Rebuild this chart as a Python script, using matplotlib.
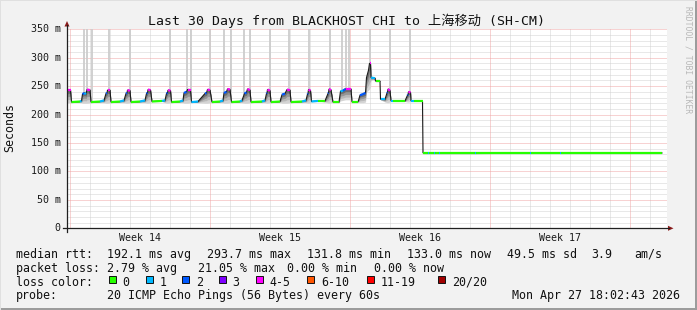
import matplotlib
matplotlib.use('Agg')
import matplotlib.pyplot as plt
from matplotlib.collections import LineCollection
from matplotlib.lines import Line2D
from matplotlib.patches import Polygon, Rectangle
import matplotlib.transforms as mtransforms
import numpy as np

W, H, DPI = 697, 310, 100

# ---------------- data (time in days since window start) ----------------
times = [
    0.000, 0.050, 0.175, 0.225,
    0.650, 0.725, 0.775, 0.875, 0.950, 1.000, 1.150, 1.200,
    1.650, 1.850, 1.950, 2.000, 2.025, 2.150, 2.200,
    2.650, 2.850, 2.950, 3.000, 3.025, 3.150, 3.200,
    3.650, 3.900, 3.975, 4.025, 4.050, 4.175, 4.250,
    4.750, 4.900, 4.975, 5.025, 5.050, 5.175, 5.225,
    5.650, 5.800, 5.850, 5.975, 6.025, 6.175, 6.225,
    6.550, 6.900, 6.975, 7.025, 7.150, 7.250,
    7.650, 7.800, 7.850, 7.975, 8.025, 8.150, 8.225,
    8.650, 8.750, 8.875, 8.975, 9.025, 9.150, 9.200,
    9.750, 9.900, 9.975, 10.000, 10.025, 10.150, 10.200,
    10.650, 10.750, 10.900, 11.000, 11.150, 11.200,
    11.750, 11.950, 12.025, 12.050, 12.075, 12.175, 12.225, 12.550,
    12.900, 13.050, 13.075, 13.100, 13.200, 13.300,
    13.600, 13.675, 13.800, 13.925, 14.200, 14.250,
    14.550, 14.650, 14.800, 14.925, 14.975, 15.075, 15.125, 15.175, 15.200,
    15.400, 15.425, 15.650, 15.675, 15.900, 16.000, 16.025, 16.050, 16.150,
    16.200, 16.300, 16.900, 17.025, 17.050, 17.075, 17.175, 17.200, 17.350,
    17.775, 17.800,
    18.050, 18.100, 18.350, 18.400, 18.600, 18.650, 20.400, 20.450, 21.950,
    23.150, 23.200, 24.650, 24.700, 29.750,
]
median_rtt = [
    238, 243, 243, 222,
    223, 224, 236, 238, 236, 244, 243, 222,
    223, 225, 237, 238, 243, 243, 222,
    223, 225, 237, 238, 243, 242, 222,
    223, 225, 237, 238, 244, 243, 223,
    224, 225, 237, 238, 243, 242, 222,
    223, 225, 238, 240, 244, 244, 222,
    223, 237, 238, 244, 243, 222,
    223, 225, 238, 240, 245, 244, 222,
    223, 225, 237, 239, 245, 243, 222,
    223, 225, 237, 238, 244, 242, 222,
    223, 235, 237, 244, 243, 222,
    223, 225, 236, 237, 244, 242, 223, 224,
    224, 237, 238, 245, 243, 222,
    222, 241, 242, 245, 245, 222,
    222, 234, 236, 238, 265, 278, 290, 290, 265,
    264, 259, 259, 227, 227, 238, 239, 245, 242,
    224, 224, 224, 234, 235, 240, 239, 224, 224,
    224, 132.5,
    132.5, 132.5, 132.5, 132.5, 132.5, 132.5, 132.5, 132.5, 132.5,
    132.5, 132.5, 132.5, 132.5, 132.5,
]
loss_pings = [
    2, 4, 4, 0,
    1, 1, 2, 1, 1, 4, 4, 0,
    1, 1, 2, 2, 4, 4, 0,
    1, 1, 2, 2, 4, 4, 0,
    1, 1, 2, 2, 4, 4, 0,
    1, 1, 2, 2, 4, 4, 0,
    1, 1, 2, 2, 4, 4, 1,
    1, 2, 2, 4, 4, 0,
    1, 1, 2, 2, 4, 4, 0,
    1, 1, 2, 2, 4, 4, 0,
    1, 1, 2, 2, 4, 4, 0,
    2, 2, 2, 4, 4, 0,
    1, 1, 2, 2, 4, 4, 1, 0,
    1, 2, 2, 4, 4, 0,
    0, 1, 2, 4, 4, 0,
    0, 2, 2, 2, 4, 4, 4, 4, 1,
    1, 0, 0, 1, 1, 2, 2, 4, 4,
    1, 0, 1, 2, 2, 4, 4, 1, 0,
    0, 0,
    1, 0, 1, 0, 1, 0, 1, 0, 0,
    1, 0, 1, 0, 0,
]
smoke_min = [
    220, 221, 221, 222,
    222, 221, 220, 220, 220, 220, 221, 222,
    222, 221, 220, 220, 220, 221, 222,
    222, 221, 220, 220, 220, 221, 222,
    222, 221, 220, 220, 220, 221, 223,
    223, 221, 220, 220, 220, 221, 222,
    222, 221, 220, 220, 220, 221, 222,
    221, 220, 220, 220, 221, 222,
    222, 221, 220, 220, 220, 221, 222,
    222, 221, 220, 220, 220, 221, 222,
    222, 221, 220, 220, 220, 221, 222,
    222, 220, 220, 220, 221, 222,
    222, 221, 220, 220, 220, 221, 223, 224,
    222, 220, 220, 220, 221, 222,
    221, 224, 225, 226, 226, 222,
    222, 221, 221, 222, 240, 243, 245, 248, 260,
    262, 258, 258, 226, 222, 221, 221, 221, 222,
    224, 224, 223, 222, 222, 222, 223, 224, 224,
    224, 131,
    131, 131, 131, 131, 131, 131, 131, 131, 132.5,
    132.5, 132.5, 132.5, 132.5, 132.5,
]
smoke_max = [
    241, 246, 245, 222,
    224, 226, 241, 242, 241, 247, 246, 222,
    224, 227, 240, 241, 246, 245, 222,
    224, 227, 240, 241, 246, 245, 222,
    224, 227, 240, 241, 247, 245, 223,
    225, 227, 240, 241, 246, 244, 222,
    224, 227, 241, 243, 247, 246, 223,
    226, 240, 241, 247, 245, 222,
    224, 227, 241, 243, 248, 246, 222,
    224, 227, 240, 242, 248, 245, 222,
    224, 227, 240, 241, 247, 244, 222,
    225, 238, 240, 247, 245, 222,
    224, 227, 239, 240, 247, 244, 224, 224,
    226, 240, 241, 248, 245, 222,
    223, 244, 245, 248, 247, 222,
    222, 237, 240, 242, 268, 282, 293, 292, 268,
    266, 260, 260, 228, 230, 241, 242, 248, 244,
    225, 224, 226, 237, 238, 243, 241, 225, 224,
    224, 134,
    134, 134, 134, 134, 134, 134, 134, 134, 132.5,
    132.5, 132.5, 132.5, 132.5, 132.5,
]
spike_times = [0.825, 1.000, 1.225, 2.100, 3.150, 5.150, 6.000, 6.175,
               7.150, 7.850, 8.200, 8.850, 9.150, 10.150, 11.100, 12.100,
               13.150, 13.750, 13.925, 14.100, 15.125, 16.150, 17.150]
spike_max = [380] * len(spike_times)

y_ticks = [0, 50, 100, 150, 200, 250, 300, 350]
y_tick_labels = ['0', '50 m', '100 m', '150 m', '200 m', '250 m', '300 m', '350 m']
week_starts = [0.16, 7.16, 14.16, 21.16, 28.16]
week_labels = ['Week 14', 'Week 15', 'Week 16', 'Week 17']

title = 'Last 30 Days from BLACKHOST CHI to 上海移动 (SH-CM)'
legend_rows = [
    [(16, 'median rtt:'), (107.3, '192.1 ms avg'), (207.3, '293.7 ms max'),
     (306.7, '131.8 ms min'), (406.7, '133.0 ms now'), (507.3, '49.5 ms sd'),
     (591, '3.9'), (634, 'am/s')],
    [(16, 'packet loss:'), (107.3, '2.79 % avg'), (197.8, '21.05 % max'),
     (286.7, '0.00 % min'), (374, '0.00 % now')],
]
loss_legend = ['0', '1', '2', '3', '4-5', '6-10', '11-19', '20/20']
loss_legend_colors = ['#26ff00', '#00b8ff', '#0059ff', '#7e00ff',
                      '#ff00ff', '#ff5500', '#ff0000', '#a10000']
probe_text = '20 ICMP Echo Pings (56 Bytes) every 60s'
stamp_text = 'Mon Apr 27 18:02:43 2026'


def loss_color(n):
    if n <= 0:
        return loss_legend_colors[0]
    if n <= 3:
        return loss_legend_colors[n]
    if n <= 5:
        return loss_legend_colors[4]
    if n <= 10:
        return loss_legend_colors[5]
    if n <= 19:
        return loss_legend_colors[6]
    return loss_legend_colors[7]


# ---------------- layout helpers ----------------
MONO = 'DejaVu Sans Mono'
fig = plt.figure(figsize=(W / DPI, H / DPI), dpi=DPI)
fig.patch.set_facecolor('#f2f2f2')


def fx(x):
    return x / W


def fy(y):
    return 1 - y / H


AX_L, AX_R, AX_T, AX_B = 67, 667, 29.3, 228.3
ax = fig.add_axes([fx(AX_L), fy(AX_B), (AX_R - AX_L) / W, (AX_B - AX_T) / H])
ax.set_facecolor('white')
ax.set_xlim(0, 30)
ax.set_ylim(0, 350)
for s in ax.spines.values():
    s.set_visible(False)
ax.set_xticks([])
ax.set_yticks([])

dot = (0, (1, 1))
# horizontal grid
for v in range(10, 351, 10):
    if v % 50 == 0:
        ax.axhline(v, color='#f0a6a6', lw=0.72, ls=dot, zorder=0.6)
    else:
        ax.axhline(v, color='#d2d2d2', lw=0.72, ls=dot, zorder=0.5)
# vertical grid
minor_days = np.arange(week_starts[0], 30, 1.0)
for d in minor_days:
    if min(abs(d - w) for w in week_starts) > 0.01:
        ax.axvline(d, color='#d2d2d2', lw=0.72, ls=dot, zorder=0.5)
for w in week_starts:
    ax.axvline(w, color='#f0a6a6', lw=0.72, ls=dot, zorder=0.6)

t = np.array(times)
med = np.array(median_rtt, dtype=float)
lo = np.array(smoke_min, dtype=float)
hi = np.array(smoke_max, dtype=float)

# spikes (outlier pings going off the top)
spike_base = np.interp(spike_times, t, med)
ax.vlines(spike_times, spike_base, spike_max, color='#cdcdcd', lw=1.3, zorder=1)

# smoke
shades = [(1.0, '#d4d4d4'), (0.75, '#b8b8b8'), (0.5, '#959595'), (0.25, '#6e6e6e')]
for f, c in shades:
    ax.fill_between(t, med - f * (med - lo), med + f * (hi - med),
                    color=c, lw=0, zorder=2)

# median line
ax.plot(t, med, color='#1a1a1a', lw=0.8, zorder=3, solid_joinstyle='miter')
segs, cols = [], []
for i in range(len(t) - 1):
    if abs(med[i + 1] - med[i]) <= 3:
        segs.append([(t[i], med[i]), (t[i + 1], med[i + 1])])
        cols.append(loss_color(loss_pings[i]))
ax.add_collection(LineCollection(segs, colors=cols, linewidths=1.6,
                                 capstyle='butt', zorder=4))

# axes lines and arrows
axis_col = '#202020'
arrow_col = '#8b1a1a'
fig.add_artist(Line2D([fx(63), fx(669)], [fy(AX_B), fy(AX_B)], color=axis_col, lw=0.9))
fig.add_artist(Line2D([fx(AX_L), fx(AX_L)], [fy(231.5), fy(25)], color=axis_col, lw=0.9))
fig.add_artist(Polygon([[fx(668), fy(225.8)], [fx(673.5), fy(AX_B)], [fx(668), fy(230.8)]],
                       closed=True, color=arrow_col, lw=0))
fig.add_artist(Polygon([[fx(64.5), fy(26.5)], [fx(AX_L), fy(21)], [fx(69.5), fy(26.5)]],
                       closed=True, color=arrow_col, lw=0))

# y tick labels
ytr = mtransforms.blended_transform_factory(fig.transFigure, ax.transData)
for v, lab in zip(y_ticks, y_tick_labels):
    ax.text(fx(60.5), v, lab, transform=ytr, ha='right', va='center',
            family=MONO, fontsize=7.2, color='#1a1a1a', clip_on=False)
# week labels
xtr = mtransforms.blended_transform_factory(ax.transData, fig.transFigure)
for i, lab in enumerate(week_labels):
    c = (week_starts[i] + week_starts[i + 1]) / 2
    ax.text(c, fy(238), lab, transform=xtr, ha='center', va='center',
            family=MONO, fontsize=7.2, color='#1a1a1a', clip_on=False)

# title, y label, watermark
fig.text(fx(346.5), fy(21), title, ha='center', va='center', fontsize=9.5,
         family=[MONO, 'Noto Sans CJK SC'], color='#111111')
fig.text(fx(10), fy(128), 'Seconds', rotation=90, ha='center', va='center',
         family=MONO, fontsize=8.4, color='#111111')
fig.text(fx(688), fy(60), 'RRDTOOL / TOBI OETIKER', rotation=270, ha='center',
         va='center', family=MONO, fontsize=5.8, color='#b8b8b8')

# legend
row_y = [254.3, 268.3, 282.3, 296.0]
LFS = 8.35
for r, row in enumerate(legend_rows):
    for x, s in row:
        fig.text(fx(x), fy(row_y[r]), s, ha='left', va='center', family=MONO,
                 fontsize=LFS, color='#111111')
fig.text(fx(16), fy(row_y[2]), 'loss color:', ha='left', va='center',
         family=MONO, fontsize=LFS, color='#111111')
box_x = [109, 145.7, 182.3, 219, 256, 307.3, 366.7, 438.3]
for bx, lab, c in zip(box_x, loss_legend, loss_legend_colors):
    fig.add_artist(Rectangle((fx(bx), fy(283.3)), 7 / W, 7 / H, facecolor=c,
                             edgecolor='#111111', lw=0.7))
    fig.text(fx(bx + 13.5), fy(row_y[2]), lab, ha='left', va='center',
             family=MONO, fontsize=LFS, color='#111111')
fig.text(fx(16), fy(row_y[3]), 'probe:', ha='left', va='center', family=MONO,
         fontsize=LFS, color='#111111')
fig.text(fx(107.3), fy(row_y[3]), probe_text, ha='left', va='center',
         family=MONO, fontsize=LFS, color='#111111')
fig.text(fx(680.5), fy(row_y[3]), stamp_text, ha='right', va='center',
         family=MONO, fontsize=LFS, color='#111111')

# frame
fig.add_artist(Rectangle((0, 0), 1, 2 / H, facecolor='#9c9c9c', lw=0))
fig.add_artist(Rectangle((1 - 2 / W, 0), 2 / W, 1, facecolor='#9c9c9c', lw=0))
fig.add_artist(Rectangle((0, 1 - 1 / H), 1, 1 / H, facecolor='#e0e0e0', lw=0))
fig.add_artist(Rectangle((0, 0), 1 / W, 1, facecolor='#e0e0e0', lw=0))

fig.savefig('out.png', dpi=DPI, facecolor=fig.get_facecolor())
